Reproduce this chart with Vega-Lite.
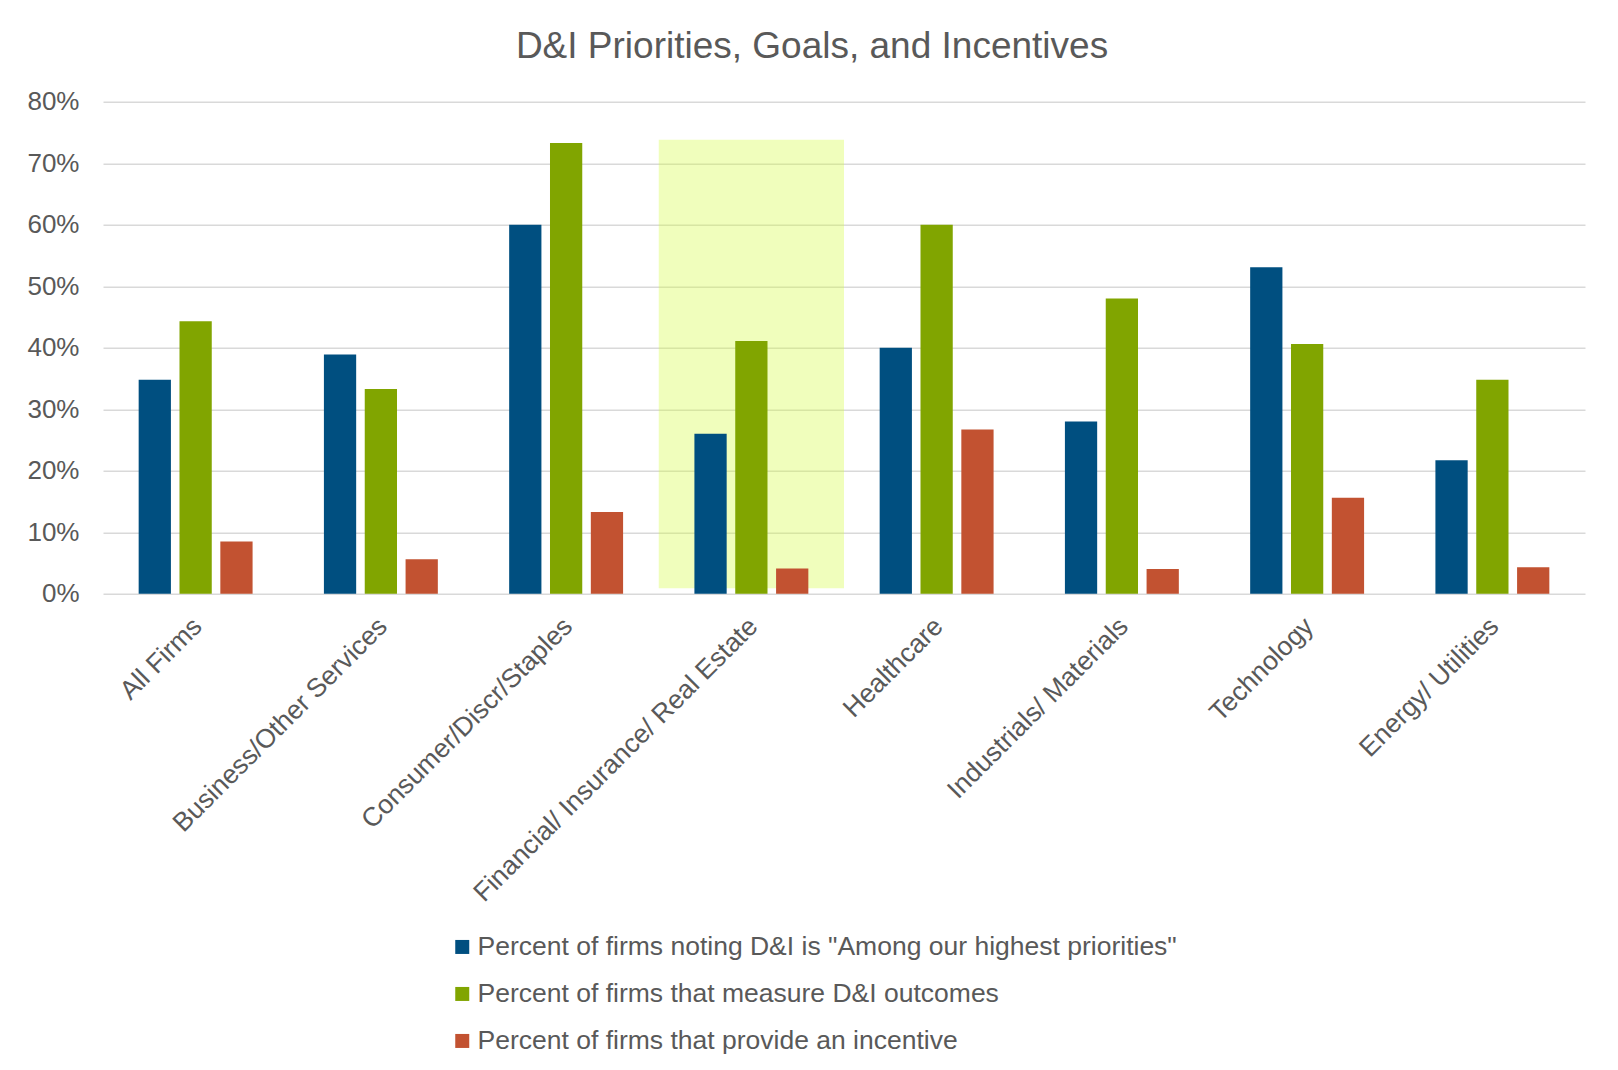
{
  "$schema": "https://vega.github.io/schema/vega-lite/v6.json",
  "autosize": {"type": "none"},
  "width": 1482,
  "height": 492,
  "padding": {"left": 103, "top": 101.7, "right": 33, "bottom": 476.3},
  "background": "#ffffff",
  "title": {
    "text": "D&I Priorities, Goals, and Incentives",
    "frame": "group",
    "anchor": "middle",
    "dx": -32,
    "offset": 41,
    "dy": 47.5,
    "baseline": "alphabetic",
    "fontSize": 37,
    "fontWeight": "normal",
    "font": "Liberation Sans",
    "color": "#595959"
  },
  "datasets": {
    "bars": [
      {"category": "All Firms", "series": "Percent of firms noting D&I is \"Among our highest priorities\"", "value": 0.348},
      {"category": "All Firms", "series": "Percent of firms that measure D&I outcomes", "value": 0.443},
      {"category": "All Firms", "series": "Percent of firms that provide an incentive", "value": 0.085},
      {"category": "Business/Other Services", "series": "Percent of firms noting D&I is \"Among our highest priorities\"", "value": 0.389},
      {"category": "Business/Other Services", "series": "Percent of firms that measure D&I outcomes", "value": 0.333},
      {"category": "Business/Other Services", "series": "Percent of firms that provide an incentive", "value": 0.056},
      {"category": "Consumer/Discr/Staples", "series": "Percent of firms noting D&I is \"Among our highest priorities\"", "value": 0.600},
      {"category": "Consumer/Discr/Staples", "series": "Percent of firms that measure D&I outcomes", "value": 0.733},
      {"category": "Consumer/Discr/Staples", "series": "Percent of firms that provide an incentive", "value": 0.133},
      {"category": "Financial/ Insurance/ Real Estate", "series": "Percent of firms noting D&I is \"Among our highest priorities\"", "value": 0.260},
      {"category": "Financial/ Insurance/ Real Estate", "series": "Percent of firms that measure D&I outcomes", "value": 0.411},
      {"category": "Financial/ Insurance/ Real Estate", "series": "Percent of firms that provide an incentive", "value": 0.041},
      {"category": "Healthcare", "series": "Percent of firms noting D&I is \"Among our highest priorities\"", "value": 0.400},
      {"category": "Healthcare", "series": "Percent of firms that measure D&I outcomes", "value": 0.600},
      {"category": "Healthcare", "series": "Percent of firms that provide an incentive", "value": 0.267},
      {"category": "Industrials/ Materials", "series": "Percent of firms noting D&I is \"Among our highest priorities\"", "value": 0.280},
      {"category": "Industrials/ Materials", "series": "Percent of firms that measure D&I outcomes", "value": 0.480},
      {"category": "Industrials/ Materials", "series": "Percent of firms that provide an incentive", "value": 0.040},
      {"category": "Technology", "series": "Percent of firms noting D&I is \"Among our highest priorities\"", "value": 0.531},
      {"category": "Technology", "series": "Percent of firms that measure D&I outcomes", "value": 0.406},
      {"category": "Technology", "series": "Percent of firms that provide an incentive", "value": 0.156},
      {"category": "Energy/ Utilities", "series": "Percent of firms noting D&I is \"Among our highest priorities\"", "value": 0.217},
      {"category": "Energy/ Utilities", "series": "Percent of firms that measure D&I outcomes", "value": 0.348},
      {"category": "Energy/ Utilities", "series": "Percent of firms that provide an incentive", "value": 0.043}
    ],
    "highlight": [
      {"category": "Financial/ Insurance/ Real Estate", "low": 0.009, "high": 0.738}
    ]
  },
  "config": {
    "font": "Liberation Sans",
    "view": {"stroke": null},
    "axis": {
      "labelFont": "Liberation Sans",
      "labelColor": "#595959",
      "labelFontSize": 26,
      "title": null,
      "domain": false,
      "ticks": false,
      "tickSize": 0
    },
    "legend": {
      "labelFont": "Liberation Sans",
      "labelColor": "#595959",
      "labelFontSize": 26.5
    }
  },
  "layer": [
    {
      "data": {"name": "highlight"},
      "mark": {"type": "rect", "color": "#D4FC40", "opacity": 0.35},
      "encoding": {
        "x": {
          "field": "category",
          "type": "nominal",
          "sort": null,
          "scale": {
            "domain": ["All Firms", "Business/Other Services", "Consumer/Discr/Staples", "Financial/ Insurance/ Real Estate", "Healthcare", "Industrials/ Materials", "Technology", "Energy/ Utilities"],
            "paddingInner": 0,
            "paddingOuter": 0
          },
          "axis": null
        },
        "y": {"field": "low", "type": "quantitative"},
        "y2": {"field": "high"}
      }
    },
    {
      "data": {"name": "bars"},
      "mark": {"type": "bar"},
      "encoding": {
        "x": {
          "field": "category",
          "type": "nominal",
          "sort": null,
          "scale": {
            "domain": ["All Firms", "Business/Other Services", "Consumer/Discr/Staples", "Financial/ Insurance/ Real Estate", "Healthcare", "Industrials/ Materials", "Technology", "Energy/ Utilities"],
            "paddingInner": 0.385,
            "paddingOuter": 0.1925
          },
          "axis": {
            "labelAngle": -45,
            "labelAlign": "right",
            "labelBaseline": "top",
            "labelPadding": 19,
            "labelOffset": -7,
            "labelFontSize": 26.5,
            "labelLimit": 0
          }
        },
        "xOffset": {
          "field": "series",
          "type": "nominal",
          "sort": null,
          "scale": {"paddingInner": 0.21, "paddingOuter": 0}
        },
        "y": {
          "field": "value",
          "type": "quantitative",
          "scale": {"domain": [0, 0.8]},
          "axis": {
            "values": [0, 0.1, 0.2, 0.3, 0.4, 0.5, 0.6, 0.7, 0.8],
            "format": ".0%",
            "labelPadding": 24,
            "grid": true,
            "gridColor": "#D9D9D9",
            "gridWidth": 1.5
          }
        },
        "color": {
          "field": "series",
          "type": "nominal",
          "sort": null,
          "scale": {
            "domain": ["Percent of firms noting D&I is \"Among our highest priorities\"", "Percent of firms that measure D&I outcomes", "Percent of firms that provide an incentive"],
            "range": ["#004F80", "#81A500", "#C25231"]
          },
          "legend": {
            "orient": "none",
            "legendX": 346,
            "legendY": 832,
            "direction": "vertical",
            "title": null,
            "symbolType": "square",
            "symbolSize": 196,
            "symbolStrokeWidth": 0,
            "labelOffset": 2,
            "rowPadding": 20,
            "padding": 0,
            "labelLimit": 0
          }
        }
      }
    }
  ],
  "resolve": {"scale": {"x": "independent"}}
}
